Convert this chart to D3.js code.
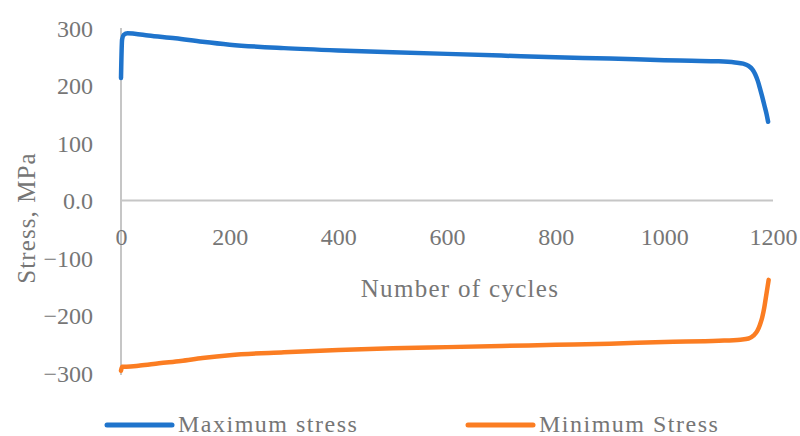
<!DOCTYPE html>
<html>
<head>
<meta charset="utf-8">
<script src="https://cdn.jsdelivr.net/npm/d3@7"></script>
<style>
  html, body { margin: 0; padding: 0; background: #fff; }
  svg { display: block; }
</style>
</head>
<body>
<svg id="chart" width="800" height="436"></svg>
<script>
// ---- data ----
const maxCycles = [0, 2, 5, 12, 25, 50, 100, 150, 200, 300, 400, 500, 600, 700, 800, 900, 1000, 1050, 1100, 1130, 1145, 1155, 1162, 1167, 1172, 1176, 1180, 1184, 1188, 1191];
const maxStress = [213, 280, 288, 291, 290, 287, 282, 276, 271, 265, 261, 258, 255, 252, 249, 247, 244, 243, 242, 240, 238, 234, 228, 220, 208, 195, 181, 166, 151, 137];
const minCycles = [0, 2, 10, 35, 70, 110, 150, 200, 300, 400, 500, 600, 700, 800, 900, 1000, 1100, 1140, 1155, 1164, 1171, 1176, 1180, 1184, 1187, 1190, 1192];
const minStress = [-296, -289, -289, -287, -283, -279, -274, -269, -264, -260, -257, -255, -253, -251, -249, -246, -244, -242, -240, -235, -227, -216, -204, -186, -168, -150, -138];
const xTicks = [0, 200, 400, 600, 800, 1000, 1200];
const yTicks = [-300, -200, -100, 0, 100, 200, 300];
const yTickLabels = ["\u2212300", "\u2212200", "\u2212100", "0.0", "100", "200", "300"];
const seriesNames = ["Maximum stress", "Minimum Stress"];
const seriesColors = ["#1f74cc", "#fb7d22"];
const xTitle = "Number of cycles";
const yTitle = "Stress, MPa";

// ---- drawing ----
const svg = d3.select("#chart");
const font = "'Palatino Linotype','Book Antiqua',Palatino,'Liberation Serif',serif";
const textColor = "#767676";
const axisColor = "#c6c6c6";

const x = d3.scaleLinear().domain([0, 1200]).range([121, 773]);
const y = d3.scaleLinear().domain([-300, 300]).range([373, 28]);

// y axis
const yAxis = svg.append("g")
  .attr("transform", `translate(${x(0)},0)`)
  .call(d3.axisLeft(y).tickValues(yTicks).tickSize(0)
    .tickFormat(d => yTickLabels[yTicks.indexOf(d)]));
yAxis.select(".domain").attr("stroke", axisColor).attr("stroke-width", 2)
  .attr("d", `M0,${y(300)}V${y(-300) + 2}`);
yAxis.selectAll("text")
  .attr("x", -28).attr("dy", null).attr("y", 8)
  .attr("fill", textColor).attr("font-family", font).attr("font-size", 24);

// x axis at zero
const xAxis = svg.append("g")
  .attr("transform", `translate(0,${y(0)})`)
  .call(d3.axisBottom(x).tickValues(xTicks).tickSize(0).tickFormat(d3.format("d")));
xAxis.select(".domain").attr("stroke", axisColor).attr("stroke-width", 2)
  .attr("d", `M${x(0)},0H${x(1200)}`);
xAxis.selectAll("text")
  .attr("dy", null).attr("y", 44)
  .attr("fill", textColor).attr("font-family", font).attr("font-size", 24);

// axis titles
svg.append("text")
  .attr("x", 460).attr("y", 297)
  .attr("text-anchor", "middle")
  .attr("fill", textColor).attr("font-family", font).attr("font-size", 25)
  .attr("letter-spacing", 1.3)
  .text(xTitle);
svg.append("text")
  .attr("transform", "translate(35,218) rotate(-90)")
  .attr("text-anchor", "middle")
  .attr("fill", textColor).attr("font-family", font).attr("font-size", 25)
  .attr("letter-spacing", 1.1)
  .text(yTitle);

// lines
const line = d3.line().curve(d3.curveMonotoneX);
const series = [
  maxCycles.map((c, i) => [x(c), y(maxStress[i])]),
  minCycles.map((c, i) => [x(c), y(minStress[i])])
];
series.forEach((pts, i) => {
  svg.append("path")
    .attr("d", line(pts))
    .attr("fill", "none")
    .attr("stroke", seriesColors[i])
    .attr("stroke-width", 4.5)
    .attr("stroke-linejoin", "round")
    .attr("stroke-linecap", "round");
});

// legend
const legendX = [107, 468];
seriesNames.forEach((name, i) => {
  const g = svg.append("g").attr("transform", `translate(${legendX[i]},425)`);
  g.append("line").attr("x1", 0).attr("x2", 65).attr("y1", 0).attr("y2", 0)
    .attr("stroke", seriesColors[i]).attr("stroke-width", 5).attr("stroke-linecap", "round");
  g.append("text").attr("x", 71).attr("y", 7)
    .attr("fill", textColor).attr("font-family", font).attr("font-size", 24)
    .attr("letter-spacing", 1.5)
    .text(name);
});
</script>
</body>
</html>
